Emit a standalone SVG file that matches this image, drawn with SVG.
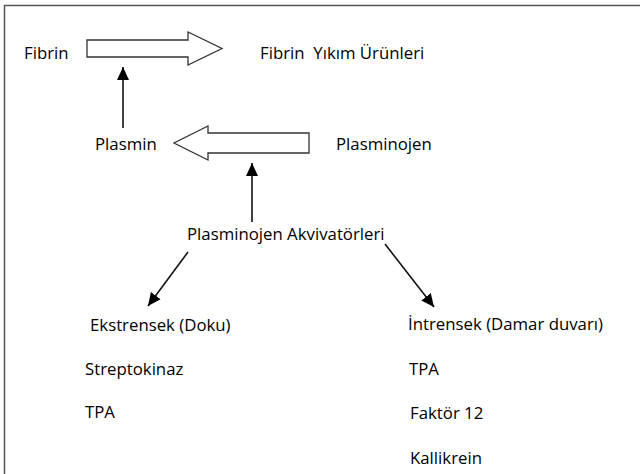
<svg xmlns="http://www.w3.org/2000/svg" width="640" height="474" viewBox="0 0 640 474">
<defs>
<style>
text{font-family:"Open Sans","Noto Sans",sans-serif;font-size:16.8px;fill:#000;white-space:pre}
.blk{fill:#fff;stroke:#333;stroke-width:1.3}
.con{stroke:#111;stroke-width:1.6;fill:none}
</style>
<marker id="ah" markerUnits="userSpaceOnUse" markerWidth="14" markerHeight="14" viewBox="0 0 14 14" refX="13" refY="7" orient="auto">
<path d="M0,1 L13,7 L0,13 Z" fill="#000"/>
</marker>
</defs>
<rect width="640" height="474" fill="#fff"/>
<path d="M4.5,474 V5.5 H640" fill="none" stroke="#555" stroke-width="1.5"/>
<g id="block-arrows">
<polygon class="blk" points="87,40 188,40 188,32 222,48.5 188,65 188,57 87,57"/>
<polygon class="blk" points="309,133 208,133 208,126 174,143 208,160 208,153 309,153"/>
</g>
<g id="connectors">
<line class="con" x1="123" y1="128" x2="123" y2="67" marker-end="url(#ah)"/>
<line class="con" x1="252" y1="222" x2="252" y2="163" marker-end="url(#ah)"/>
<line class="con" x1="188" y1="252" x2="148" y2="306" marker-end="url(#ah)"/>
<line class="con" x1="385" y1="244" x2="434" y2="307" marker-end="url(#ah)"/>
</g>
<g id="fibrin"><text x="24" y="59">Fibrin</text></g>
<g id="fyu"><text x="260" y="59">Fibrin  Yıkım Ürünleri</text></g>
<g id="plasmin"><text x="95" y="150">Plasmin</text></g>
<g id="plasminojen"><text x="336" y="150">Plasminojen</text></g>
<g id="aktivator"><text x="187" y="240">Plasminojen Akvivatörleri</text></g>
<g id="ekstrensek">
<text x="90" y="331">Ekstrensek (Doku)</text>
<text x="85" y="375">Streptokinaz</text>
<text x="85" y="418">TPA</text>
</g>
<g id="intrensek">
<text x="408" y="330">İntrensek (Damar duvarı)</text>
<text x="409" y="375">TPA</text>
<text x="410" y="419">Faktör 12</text>
<text x="410" y="464">Kallikrein</text>
</g>
</svg>
